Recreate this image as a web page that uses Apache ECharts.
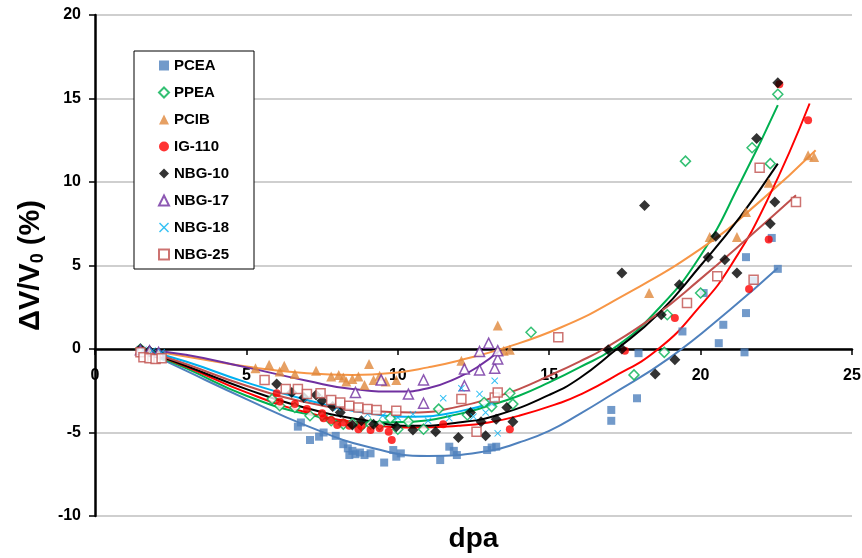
<!DOCTYPE html>
<html>
<head>
<meta charset="utf-8">
<script src="https://cdn.jsdelivr.net/npm/echarts@6/dist/echarts.min.js"></script>
<style>
html, body { margin: 0; padding: 0; background: #fff; }
#chart { width: 862px; height: 558px; }
</style>
</head>
<body>
<div id="chart"></div>
<script>
// measured points [dpa, dV/V0 %]
var pcea = [[1.5,-0.05],[1.8,-0.2],[2.0,-0.3],[2.2,-0.35],[6.7,-4.65],[6.8,-4.4],[7.1,-5.45],[7.4,-5.25],[7.55,-5.0],[7.95,-5.2],[8.2,-5.7],[8.35,-5.95],[8.4,-6.35],[8.5,-6.1],[8.6,-6.3],[8.75,-6.2],[8.9,-6.35],[9.1,-6.25],[9.55,-6.8],[9.85,-6.05],[9.95,-6.45],[10.1,-6.25],[11.4,-6.65],[11.7,-5.85],[11.85,-6.1],[11.95,-6.35],[12.95,-6.05],[13.1,-5.9],[13.25,-5.85],[17.05,-3.65],[17.05,-4.3],[17.9,-2.95],[17.95,-0.25],[19.4,1.05],[20.1,3.35],[20.6,0.35],[20.75,1.45],[21.45,-0.2],[21.5,2.15],[21.5,5.5],[21.75,4.1],[22.35,6.65],[22.55,4.8]];
var ppea = [[1.5,0],[1.8,-0.15],[2.1,-0.3],[5.85,-3.0],[6.1,-3.4],[6.6,-3.5],[7.1,-4.0],[7.5,-4.0],[7.8,-4.3],[8.2,-4.5],[8.5,-4.45],[8.8,-4.6],[9.1,-4.5],[9.4,-4.55],[9.75,-4.15],[10.0,-4.8],[10.35,-4.35],[10.85,-4.8],[11.35,-3.6],[12.3,-3.95],[12.85,-3.2],[13.1,-3.45],[13.7,-2.65],[13.8,-3.3],[14.4,1.0],[17.8,-1.55],[18.8,-0.2],[18.9,2.05],[20.0,3.35],[19.5,11.25],[21.7,12.05],[22.3,11.1],[22.55,15.25]];
var pcib = [[1.5,0],[1.8,-0.1],[2.1,-0.2],[5.3,-1.15],[5.75,-0.95],[6.1,-1.35],[6.25,-1.0],[6.6,-1.5],[7.3,-1.3],[7.8,-1.65],[8.05,-1.55],[8.2,-1.7],[8.3,-1.95],[8.5,-1.8],[8.7,-1.65],[8.9,-2.15],[9.05,-0.9],[9.2,-1.85],[9.4,-1.6],[9.6,-1.95],[9.95,-1.85],[12.1,-0.7],[13.3,1.4],[13.5,-0.1],[13.7,-0.05],[18.3,3.35],[20.3,6.7],[21.2,6.7],[21.5,8.2],[22.25,9.95],[23.55,11.6],[23.75,11.5]];
var ig110 = [[1.5,-0.05],[1.8,-0.2],[2.1,-0.35],[6.0,-2.65],[6.1,-3.15],[6.6,-3.3],[7.0,-3.6],[7.5,-3.85],[7.55,-4.15],[7.8,-4.25],[8.0,-4.55],[8.2,-4.4],[8.4,-4.6],[8.7,-4.8],[8.8,-4.6],[9.1,-4.85],[9.4,-4.75],[9.7,-4.95],[9.8,-5.45],[11.5,-4.5],[13.7,-4.8],[17.5,-0.1],[19.15,1.85],[21.6,3.6],[22.25,6.55],[23.55,13.7],[22.6,15.85]];
var nbg10 = [[1.5,0],[1.8,-0.1],[2.1,-0.25],[6.0,-2.1],[6.5,-2.6],[6.9,-2.9],[7.3,-2.75],[7.5,-3.1],[7.85,-3.45],[8.1,-3.8],[8.5,-4.55],[8.8,-4.3],[9.2,-4.5],[9.95,-4.65],[10.5,-4.85],[11.25,-4.95],[12.0,-5.3],[12.4,-3.8],[12.75,-4.35],[12.9,-5.2],[13.25,-4.2],[13.6,-3.5],[13.8,-4.35],[16.95,-0.05],[17.4,0.0],[17.4,4.55],[18.15,8.6],[18.5,-1.5],[18.7,2.05],[19.15,-0.65],[19.3,3.85],[20.25,5.5],[20.5,6.75],[20.8,5.35],[21.2,4.55],[21.85,12.6],[22.3,7.5],[22.45,8.8],[22.55,15.95]];
var nbg17 = [[1.5,-0.05],[1.8,-0.1],[2.1,-0.2],[8.6,-2.6],[9.45,-1.85],[10.35,-2.7],[10.85,-1.85],[10.85,-3.25],[12.2,-1.2],[12.2,-2.2],[12.7,-1.25],[12.7,-0.15],[13.0,0.35],[13.2,-1.15],[13.3,-0.6],[13.3,-0.1]];
var nbg18 = [[1.6,-0.05],[1.9,-0.1],[2.2,-0.2],[7.0,-3.0],[8.0,-3.5],[9.0,-3.9],[9.5,-4.0],[10.0,-4.1],[10.5,-3.9],[11.0,-4.3],[11.5,-2.95],[11.7,-4.15],[12.1,-2.35],[12.5,-4.05],[12.7,-2.7],[12.9,-3.8],[13.1,-3.25],[13.2,-1.9],[13.3,-5.05]];
var nbg25 = [[1.5,-0.2],[1.6,-0.5],[1.8,-0.55],[2.0,-0.6],[2.2,-0.55],[5.6,-1.85],[6.3,-2.4],[6.7,-2.4],[7.0,-2.7],[7.45,-2.65],[7.8,-3.05],[8.1,-3.2],[8.4,-3.4],[8.7,-3.5],[9.0,-3.6],[9.3,-3.65],[9.95,-3.7],[12.1,-3.0],[12.6,-4.95],[13.2,-2.9],[13.3,-2.6],[15.3,0.7],[19.55,2.75],[20.55,4.35],[21.75,4.15],[21.95,10.85],[23.15,8.8]];

// trend curves
var pceaFit = [[1.5,0],[3,-1.3],[5,-3.0],[7,-4.6],[9,-5.85],[11,-6.4],[13,-6.1],[14,-5.6],[15,-4.9],[16,-3.9],[17,-2.8],[19,-0.5],[21,2.4],[22.55,4.85]];
var ppeaFit = [[1.5,0],[3,-1.15],[5,-2.8],[7,-3.9],[9,-4.4],[10.5,-4.35],[12,-3.9],[13,-3.4],[14,-2.8],[15,-2.0],[16,-1.1],[17.1,0],[18.5,2.2],[20,5.6],[21.35,10.1],[22.55,14.6]];
var pcibFit = [[1.5,0],[3,-0.45],[5,-1.05],[7,-1.45],[8.5,-1.55],[10,-1.4],[11,-1.1],[12,-0.7],[13.5,0.05],[15.4,1.3],[17.15,2.9],[20,6.0],[22,8.9],[23.8,11.9]];
var ig110Fit = [[1.5,0],[3,-1.05],[5,-2.6],[7,-3.8],[9,-4.5],[10.5,-4.7],[12,-4.6],[13,-4.4],[14,-4.0],[15.4,-3.2],[16,-2.75],[17,-1.8],[18.6,0],[20,2.6],[21,5.0],[22.2,8.9],[23.6,14.7]];
var nbg10Fit = [[1.5,0],[3,-1.0],[5,-2.4],[7,-3.55],[9,-4.3],[10.5,-4.6],[12,-4.4],[13.3,-3.95],[15,-2.75],[16,-1.75],[17.1,-0.2],[18.6,2.1],[20,5.0],[21.3,7.9],[22.55,11.1]];
var nbg17Fit = [[1.5,0],[3,-0.35],[5,-1.1],[7,-1.9],[8.5,-2.4],[10,-2.55],[11,-2.35],[12,-1.7],[12.7,-1.0],[13.35,-0.1]];
var nbg18Fit = [[1.5,0],[3,-0.75],[5,-2.0],[7,-3.05],[9,-3.85],[10.5,-4.05],[12,-3.75],[13.3,-3.1]];
var nbg25Fit = [[1.5,0],[3,-0.9],[5,-2.2],[7,-3.2],[9,-3.7],[10.5,-3.8],[12,-3.45],[13.35,-2.8],[14,-2.4],[15,-1.6],[16,-0.75],[16.8,0],[18.5,2.0],[20,4.2],[21.6,6.7],[23.15,9.2]];

var crossSymbol = 'path://M1,0L5,4L9,0L10,1L6,5L10,9L9,10L5,6L1,10L0,9L4,5L0,1Z';

function scatterSeries(name, data, symbol, size, color, hollow) {
    return {
        name: name,
        type: 'scatter',
        data: data,
        symbol: symbol,
        symbolSize: size,
        z: 3,
        itemStyle: hollow ? { color: '#fff', borderColor: color, borderWidth: 1.5 } : { color: color }
    };
}

function fitSeries(name, data, color) {
    return {
        name: name + ' fit',
        type: 'line',
        data: data,
        smooth: 0.5,
        symbol: 'none',
        silent: true,
        z: 2,
        lineStyle: { color: color, width: 2 }
    };
}

var myChart = echarts.init(document.getElementById('chart'));
myChart.setOption({
    animation: false,
    textStyle: { fontFamily: 'Liberation Sans' },
    grid: { left: 95, right: 10, top: 15, bottom: 42, containLabel: false, outerBoundsMode: 'none' },
    legend: {
        data: ['PCEA', 'PPEA', 'PCIB', 'IG-110', 'NBG-10', 'NBG-17', 'NBG-18', 'NBG-25'],
        orient: 'vertical',
        left: 134,
        top: 51,
        itemWidth: 10,
        itemHeight: 10,
        itemGap: 12,
        padding: [7, 25, 7, 24],
        borderColor: '#000',
        borderWidth: 1,
        backgroundColor: '#fff',
        textStyle: { fontSize: 15, fontWeight: 'bold', color: '#000', lineHeight: 15 }
    },
    xAxis: {
        type: 'value',
        min: 0,
        max: 25,
        interval: 5,
        position: 'bottom',
        offset: -167,   // puts the axis on y = 0
        name: 'dpa',
        nameLocation: 'middle',
        nameGap: 176,
        nameTextStyle: { fontSize: 28, fontWeight: 'bold', color: '#000' },
        axisLine: { onZero: false, lineStyle: { color: '#000', width: 2.5 } },
        axisTick: { length: 6, lineStyle: { color: '#000', width: 1.5 } },
        axisLabel: { margin: 19, fontSize: 16, fontWeight: 'bold', color: '#000' },
        splitLine: { show: false }
    },
    yAxis: {
        type: 'value',
        min: -10,
        max: 20,
        interval: 5,
        name: 'ΔV/V{s|0} (%)',
        nameLocation: 'middle',
        nameGap: 48,
        nameTextStyle: {
            fontSize: 29, fontWeight: 'bold', color: '#000',
            rich: { s: { fontSize: 18, fontWeight: 'bold', color: '#000', padding: [14, 0, 0, 0] } }
        },
        axisLine: { show: true, onZero: false, lineStyle: { color: '#000', width: 2.5 } },
        axisTick: { show: true, length: 6, lineStyle: { color: '#000', width: 1.5 } },
        axisLabel: { margin: 14, fontSize: 16, fontWeight: 'bold', color: '#000' },
        splitLine: { lineStyle: { color: '#bfbfbf', width: 1.5 } }
    },
    series: [
        fitSeries('PCEA', pceaFit, '#4f81bd'),
        fitSeries('PPEA', ppeaFit, '#00b050'),
        fitSeries('PCIB', pcibFit, '#f79646'),
        fitSeries('IG-110', ig110Fit, '#ff0000'),
        fitSeries('NBG-10', nbg10Fit, '#000000'),
        fitSeries('NBG-17', nbg17Fit, '#7030a0'),
        fitSeries('NBG-18', nbg18Fit, '#00b0f0'),
        fitSeries('NBG-25', nbg25Fit, '#c0504d'),
        scatterSeries('PCEA', pcea, 'rect', 8, '#4f81bd', false),
        scatterSeries('PPEA', ppea, 'diamond', 10, '#00b050', true),
        scatterSeries('PCIB', pcib, 'triangle', 10, '#e0883c', false),
        scatterSeries('IG-110', ig110, 'circle', 8, '#ff0000', false),
        scatterSeries('NBG-10', nbg10, 'diamond', 11, '#000000', false),
        scatterSeries('NBG-17', nbg17, 'triangle', 10, '#7030a0', true),
        scatterSeries('NBG-18', nbg18, crossSymbol, 7, '#00b0f0', false),
        scatterSeries('NBG-25', nbg25, 'rect', 9, '#c0504d', true)
    ]
});
</script>
</body>
</html>
